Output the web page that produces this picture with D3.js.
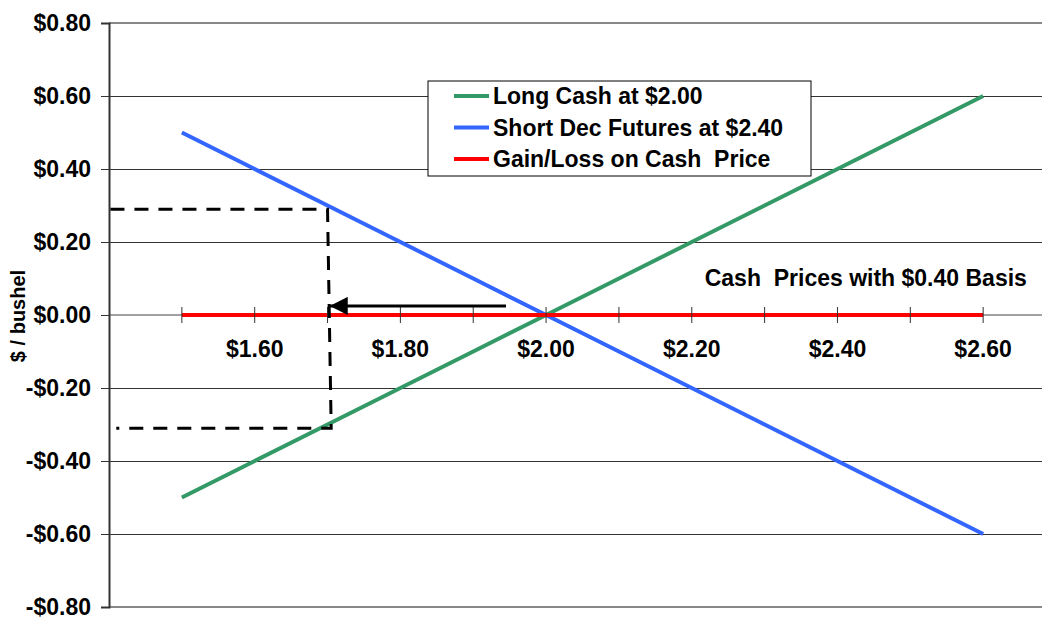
<!DOCTYPE html>
<html>
<head>
<meta charset="utf-8">
<script src="https://cdn.jsdelivr.net/npm/d3@7"></script>
<style>
  body { margin: 0; background: #fff; }
  text { font-family: Arial, "Liberation Sans", sans-serif; font-weight: bold; fill: #000; }
</style>
</head>
<body>
<div id="chart"></div>
<script>
// ################## data ##################
var prices = [1.50, 1.60, 1.70, 1.80, 1.90, 2.00, 2.10, 2.20, 2.30, 2.40, 2.50, 2.60];
var longCash = [-0.50, -0.40, -0.30, -0.20, -0.10, 0.00, 0.10, 0.20, 0.30, 0.40, 0.50, 0.60];
var shortFutures = [0.50, 0.40, 0.30, 0.20, 0.10, 0.00, -0.10, -0.20, -0.30, -0.40, -0.50, -0.60];
var cashGainLoss = [0, 0, 0, 0, 0, 0, 0, 0, 0, 0, 0, 0];
var seriesNames = ['Long Cash at $2.00', 'Short Dec Futures at $2.40', 'Gain/Loss on Cash  Price'];
var seriesColors = ['#339966', '#3366FF', '#FF0000'];
var yTicks = [-0.8, -0.6, -0.4, -0.2, 0, 0.2, 0.4, 0.6, 0.8];
var xLabelTicks = [1.60, 1.80, 2.00, 2.20, 2.40, 2.60];
var yTitle = '$ / bushel';
var basisNote = 'Cash  Prices with $0.40 Basis';
// hand drawn guide box and arrow, in price / value units
var guidePoints = [[1.402, 0.29], [1.70, 0.29], [1.705, -0.31], [1.41, -0.31]];
var arrowPoints = [[1.945, 0.025], [1.703, 0.025]];

function renderChart(params) {
  var attrs = {
    svgWidth: 1042,
    svgHeight: 617,
    marginTop: 23,
    marginLeft: 109,
    plotRight: 1056,
    plotBottom: 607,
    fontSize: 23,
    container: 'body'
  };
  Object.keys(attrs).forEach(function (key) {
    if (params && params[key]) attrs[key] = params[key];
  });

  var calc = {};
  calc.chartWidth = attrs.plotRight - attrs.marginLeft;
  calc.chartHeight = attrs.plotBottom - attrs.marginTop;

  // ###################  scales ##################
  var scales = {};
  scales.x = d3.scaleLinear().domain([1.40, 2.70]).range([0, calc.chartWidth]);
  scales.y = d3.scaleLinear().domain([-0.8, 0.8]).range([calc.chartHeight, 0]);

  var money = function (d) {
    var s = '$' + Math.abs(d).toFixed(2);
    return d < -1e-9 ? '-' + s : s;
  };

  var svg = d3.select(attrs.container).append('svg')
    .attr('width', attrs.svgWidth)
    .attr('height', attrs.svgHeight);

  var chart = svg.append('g')
    .attr('transform', 'translate(' + attrs.marginLeft + ',' + attrs.marginTop + ')');

  // gridlines
  chart.append('g').selectAll('line')
    .data(yTicks.filter(function (d) { return d !== 0; }))
    .enter().append('line')
    .attr('x1', 0).attr('x2', calc.chartWidth)
    .attr('y1', function (d) { return scales.y(d); })
    .attr('y2', function (d) { return scales.y(d); })
    .attr('stroke', function (d) { return Math.abs(d) > 0.7 ? '#888' : '#333'; })
    .attr('stroke-width', function (d) { return Math.abs(d) > 0.7 ? 2 : 1; })
    .attr('shape-rendering', 'crispEdges');

  // left axis
  var axisLeft = d3.axisLeft(scales.y).tickValues(yTicks).tickSize(8).tickFormat(money);
  var leftAxis = chart.append('g').call(axisLeft);
  leftAxis.select('.domain').attr('stroke', '#333').attr('stroke-width', 2);
  leftAxis.selectAll('.tick line').attr('stroke', '#333');
  leftAxis.selectAll('.tick text')
    .attr('x', -18)
    .style('font-size', attrs.fontSize + 'px')
    .style('font-family', 'Arial, "Liberation Sans", sans-serif')
    .style('font-weight', 'bold');

  // zero axis line
  chart.append('line')
    .attr('x1', 0).attr('x2', calc.chartWidth)
    .attr('y1', scales.y(0)).attr('y2', scales.y(0))
    .attr('stroke', '#444').attr('stroke-width', 1);

  // ################## series ###################
  var series = [longCash, shortFutures, cashGainLoss];
  var line = d3.line()
    .x(function (d) { return scales.x(d[0]); })
    .y(function (d) { return scales.y(d[1]); });

  series.forEach(function (vals, i) {
    chart.append('path')
      .datum(prices.map(function (p, j) { return [p, vals[j]]; }))
      .attr('d', line)
      .attr('fill', 'none')
      .attr('stroke', seriesColors[i])
      .attr('stroke-width', 4);
  });

  // category ticks crossing the zero axis
  chart.append('g').selectAll('line')
    .data(prices)
    .enter().append('line')
    .attr('x1', function (d) { return scales.x(d); })
    .attr('x2', function (d) { return scales.x(d); })
    .attr('y1', scales.y(0) - 8)
    .attr('y2', scales.y(0) + 8)
    .attr('stroke', '#333').attr('stroke-width', 1);

  chart.append('g').selectAll('text')
    .data(xLabelTicks)
    .enter().append('text')
    .attr('x', function (d) { return scales.x(d); })
    .attr('y', scales.y(0) + 42)
    .attr('text-anchor', 'middle')
    .style('font-size', attrs.fontSize + 'px')
    .text(money);

  // note
  chart.append('text')
    .attr('x', scales.x(2.66))
    .attr('y', scales.y(0.08))
    .attr('text-anchor', 'end')
    .style('font-size', attrs.fontSize + 'px')
    .style('white-space', 'pre')
    .text(basisNote);

  // ############## annotations ##################
  chart.append('path')
    .datum(guidePoints)
    .attr('d', line)
    .attr('fill', 'none')
    .attr('stroke', '#000')
    .attr('stroke-width', 3)
    .attr('stroke-dasharray', '14,10');

  svg.append('defs').append('marker')
    .attr('id', 'arrowhead')
    .attr('viewBox', '0 0 10 10')
    .attr('refX', 10).attr('refY', 5)
    .attr('markerUnits', 'userSpaceOnUse')
    .attr('markerWidth', 21).attr('markerHeight', 18)
    .attr('orient', 'auto')
    .append('path').attr('d', 'M0,0L10,5L0,10Z').attr('fill', '#000');

  chart.append('path')
    .datum(arrowPoints)
    .attr('d', line)
    .attr('stroke', '#000')
    .attr('stroke-width', 3)
    .attr('marker-end', 'url(#arrowhead)');

  // y title
  svg.append('text')
    .attr('transform', 'translate(25,316) rotate(-90)')
    .attr('text-anchor', 'middle')
    .style('font-size', '20px')
    .text(yTitle);

  // ################## legend ###################
  var legend = svg.append('g').attr('transform', 'translate(428,81)');
  legend.append('rect')
    .attr('width', 383).attr('height', 95)
    .attr('fill', '#fff').attr('stroke', '#000').attr('stroke-width', 1);
  var rows = legend.selectAll('.legend-row')
    .data(seriesNames)
    .enter().append('g')
    .attr('class', 'legend-row')
    .attr('transform', function (d, i) { return 'translate(0,' + (15 + i * 31.5) + ')'; });
  rows.append('line')
    .attr('x1', 26).attr('x2', 61)
    .attr('stroke', function (d, i) { return seriesColors[i]; })
    .attr('stroke-width', 4);
  rows.append('text')
    .attr('x', 65).attr('y', 8)
    .style('font-size', attrs.fontSize + 'px')
    .style('white-space', 'pre')
    .text(function (d) { return d; });
}

renderChart({ container: '#chart' });
</script>
</body>
</html>
